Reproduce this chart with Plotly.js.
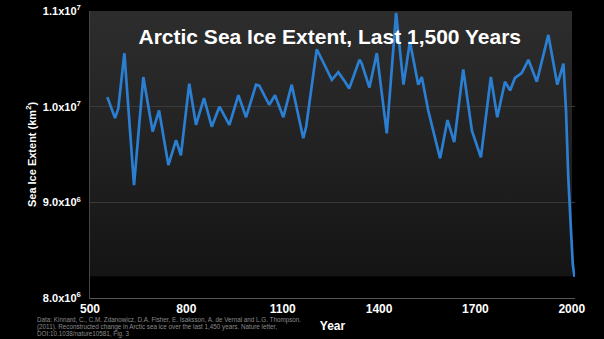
<!DOCTYPE html>
<html>
<head>
<meta charset="utf-8">
<script src="https://cdn.plot.ly/plotly-3.0.1.min.js"></script>
<style>
html,body{margin:0;padding:0;background:#000;}
#chart{width:604px;height:339px;}
</style>
</head>
<body>
<div id="chart"></div>
<script>
// Years (x) and reconstructed sea ice extent (km^2)
const years = [554, 578, 588, 607, 637, 666, 695, 715, 744, 768, 783, 809, 830, 855, 879, 903,
  934, 962, 986, 1017, 1027, 1058, 1076, 1102, 1128, 1164, 1173, 1206, 1253, 1273, 1294, 1307,
  1339, 1346, 1370, 1393, 1424, 1453, 1476, 1496, 1522, 1533, 1553, 1590, 1613, 1634, 1662, 1689,
  1717, 1748, 1768, 1792, 1808, 1823, 1844, 1865, 1891, 1927, 1955, 1974, 1982, 1989, 1997, 2003, 2008];
const extent = [10.10e6, 9.88e6, 9.98e6, 10.56e6, 9.18e6, 10.31e6, 9.74e6, 9.96e6, 9.39e6, 9.65e6, 9.49e6, 10.24e6, 9.81e6, 10.09e6, 9.79e6, 10.00e6,
  9.81e6, 10.12e6, 9.89e6, 10.23e6, 10.22e6, 10.02e6, 10.12e6, 9.89e6, 10.23e6, 9.67e6, 9.79e6, 10.60e6, 10.28e6, 10.36e6, 10.26e6, 10.19e6,
  10.49e6, 10.45e6, 10.20e6, 10.56e6, 9.72e6, 10.98e6, 10.23e6, 10.68e6, 10.23e6, 10.31e6, 9.96e6, 9.46e6, 9.86e6, 9.63e6, 10.39e6, 9.75e6,
  9.47e6, 10.31e6, 9.89e6, 10.26e6, 10.17e6, 10.30e6, 10.35e6, 10.49e6, 10.26e6, 10.75e6, 10.23e6, 10.45e6, 9.96e6, 9.27e6, 8.74e6, 8.36e6, 8.22e6];

const xTickVals = [500, 800, 1100, 1400, 1700, 2000];
const xTickText = ['500', '800', '1100', '1400', '1700', '2000'];
const yTickVals = [8.0e6, 9.0e6, 1.0e7, 1.1e7];
const yTickText = ['8.0x10<sup>6</sup>', '9.0x10<sup>6</sup>', '1.0x10<sup>7</sup>', '1.1x10<sup>7</sup>'];

const titleText = 'Arctic Sea Ice Extent, Last 1,500 Years';
const xTitle = 'Year';
const yTitle = 'Sea Ice Extent (km<sup>2</sup>)';
const sourceLines = [
  'Data: Kinnard, C., C.M. Zdanowicz, D.A. Fisher, E. Isaksson, A. de Vernal and L.G. Thompson.',
  '(2011). Reconstructed change in Arctic sea ice over the last 1,450 years. Nature letter,',
  'DOI:10.1038/nature10581, Fig. 3'
];

const FONT = 'Liberation Sans, Arial, Helvetica, sans-serif';

const panelSvg = '<svg xmlns="http://www.w3.org/2000/svg" width="100" height="100" preserveAspectRatio="none">' +
  '<defs><linearGradient id="g" x1="0" y1="0" x2="0" y2="1">' +
  '<stop offset="0" stop-color="#2d2d2d"/><stop offset="0.5" stop-color="#222222"/><stop offset="1" stop-color="#141414"/>' +
  '</linearGradient></defs><rect width="100" height="100" fill="url(#g)"/></svg>';
const panelSrc = 'data:image/svg+xml;base64,' + btoa(panelSvg);

const trace = {
  x: years,
  y: extent,
  type: 'scatter',
  mode: 'lines',
  line: {color: '#2b7fd2', width: 2.7},
  hoverinfo: 'x+y'
};

// source note: three lines, tightly spaced as in the reference
const plotBottom = 298, plotH = 287;
const lineCenters = [320, 327, 334];
const sourceAnnotations = sourceLines.map((t, i) => ({
  text: t,
  xref: 'paper', yref: 'paper',
  x: (35 - 90) / 485, y: (plotBottom - lineCenters[i]) / plotH,
  xanchor: 'left', yanchor: 'middle',
  align: 'left',
  showarrow: false,
  font: {family: FONT, size: 6.3, color: '#8a8a8a'}
}));

const layout = {
  width: 604,
  height: 339,
  margin: {l: 90, r: 29, t: 11, b: 41},
  paper_bgcolor: '#000000',
  plot_bgcolor: 'rgba(0,0,0,0)',
  showlegend: false,
  font: {family: FONT, color: '#ffffff'},
  title: {
    text: titleText,
    font: {family: FONT, size: 21, color: '#ffffff', weight: 'bold'},
    x: 0.546, xref: 'container', xanchor: 'center',
    y: 0.891, yref: 'container', yanchor: 'middle'
  },
  xaxis: {
    range: [500, 2010],
    tickvals: xTickVals,
    ticktext: xTickText,
    showgrid: false,
    zeroline: false,
    showline: true,
    linecolor: '#555555',
    linewidth: 1,
    ticks: '',
    tickfont: {family: FONT, size: 12, color: '#ffffff', weight: 'bold'},
    title: {text: xTitle, font: {family: FONT, size: 12, color: '#ffffff', weight: 'bold'}, standoff: 6},
    fixedrange: true
  },
  yaxis: {
    range: [8.0e6, 1.1e7],
    tickvals: yTickVals,
    ticktext: yTickText,
    showgrid: true,
    gridcolor: '#3a3a3a',
    gridwidth: 1,
    zeroline: false,
    showline: true,
    linecolor: '#444444',
    linewidth: 1,
    ticks: '',
    ticklabelstandoff: 6,
    tickfont: {family: FONT, size: 11, color: '#ffffff', weight: 'bold'},
    title: {text: yTitle, font: {family: FONT, size: 11, color: '#ffffff', weight: 'bold'}, standoff: 4},
    fixedrange: true
  },
  images: [{
    source: panelSrc,
    xref: 'paper', yref: 'paper',
    x: 0, y: 1,
    sizex: 0.994, sizey: 0.925,
    xanchor: 'left', yanchor: 'top',
    sizing: 'stretch',
    layer: 'below'
  }],
  annotations: sourceAnnotations
};

Plotly.newPlot('chart', [trace], layout, {displayModeBar: false, staticPlot: true});
</script>
</body>
</html>
